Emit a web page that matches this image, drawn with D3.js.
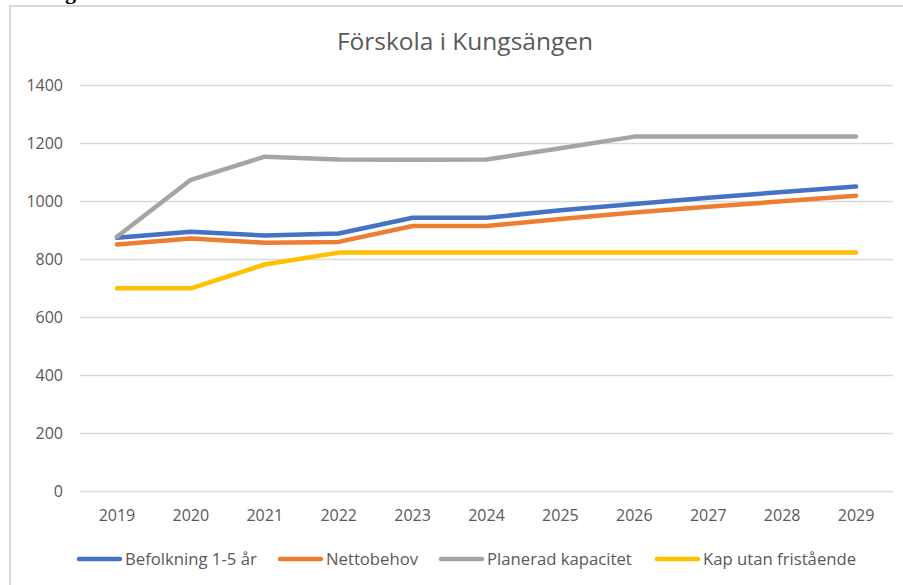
<!DOCTYPE html>
<html>
<head>
<meta charset="utf-8">
<script src="https://cdn.jsdelivr.net/npm/d3@7"></script>
<style>
  html, body { margin: 0; padding: 0; background: #fff; }
  svg { display: block; }
</style>
</head>
<body>
<svg id="chart" width="903" height="585"></svg>
<script>
const title = "Förskola i Kungsängen";
const years = ["2019","2020","2021","2022","2023","2024","2025","2026","2027","2028","2029"];
const yTicks = [0, 200, 400, 600, 800, 1000, 1200, 1400];
const seriesNames = ["Befolkning 1-5 år", "Nettobehov", "Planerad kapacitet", "Kap utan fristående"];
const befolkning = [873, 894, 881, 888, 942, 942, 968, 990, 1011, 1031, 1050];
const nettobehov = [850, 871, 856, 859, 914, 914, 938, 960, 980, 999, 1018];
const planerad   = [877, 1073, 1153, 1143, 1142, 1143, 1182, 1222, 1222, 1222, 1222];
const kapUtan    = [699, 699, 781, 822, 822, 822, 822, 822, 822, 822, 822];
const colors = ["#4472C4", "#ED7D31", "#A5A5A5", "#FFC000"];

const seriesValues = [befolkning, nettobehov, planerad, kapUtan];

const svg = d3.select("#chart");
const font = "'Open Sans', 'Noto Sans', sans-serif";
const textColor = "#595959";

// cut-off document text above the chart (only its descender shows)
svg.append("text")
  .attr("x", 76).attr("y", -1)
  .attr("text-anchor", "end")
  .attr("font-family", "'Liberation Serif', serif")
  .attr("font-weight", "bold")
  .attr("font-size", 22)
  .attr("fill", "#000")
  .text("ng");

// chart border
svg.append("rect")
  .attr("x", 10).attr("y", 6)
  .attr("width", 1000).attr("height", 700)
  .attr("fill", "none")
  .attr("stroke", "#D9D9D9")
  .attr("stroke-width", 2);

const plot = { left: 80, right: 893, top: 85, bottom: 491 };

const x = d3.scaleBand().domain(years).range([plot.left, plot.right]);
const y = d3.scaleLinear().domain([0, 1400]).range([plot.bottom, plot.top]);

// gridlines
const yAxis = d3.axisLeft(y).tickValues(yTicks).tickSize(-(plot.right - plot.left)).tickPadding(17).tickFormat(d3.format("d"));
const gy = svg.append("g").attr("transform", `translate(${plot.left},0)`).call(yAxis);
gy.select(".domain").remove();
gy.selectAll(".tick line").attr("stroke", "#D9D9D9").attr("stroke-width", 1.3);
gy.selectAll(".tick text")
  .attr("font-family", font).attr("font-size", 16).attr("fill", textColor)
  .attr("dy", "0.36em");

// x axis labels
const xAxis = d3.axisBottom(x).tickSize(0).tickPadding(19);
const gx = svg.append("g").attr("transform", `translate(0,${plot.bottom})`).call(xAxis);
gx.select(".domain").remove();
gx.selectAll(".tick text")
  .attr("font-family", font).attr("font-size", 16).attr("fill", textColor);

// lines
const line = d3.line()
  .x((d, i) => x(years[i]) + x.bandwidth() / 2)
  .y(d => y(d));

seriesValues.forEach((vals, k) => {
  svg.append("path")
    .datum(vals)
    .attr("d", line)
    .attr("fill", "none")
    .attr("stroke", colors[k])
    .attr("stroke-width", 4.5)
    .attr("stroke-linecap", "round")
    .attr("stroke-linejoin", "round");
});

// title
svg.append("text")
  .attr("x", 465).attr("y", 50)
  .attr("text-anchor", "middle")
  .attr("font-family", font)
  .attr("font-size", 24.5)
  .attr("fill", textColor)
  .text(title);

// legend
const legendStarts = [77, 278, 439, 655];
const legend = svg.append("g");
seriesNames.forEach((name, k) => {
  const g = legend.append("g").attr("transform", `translate(${legendStarts[k]},0)`);
  g.append("line")
    .attr("x1", 2).attr("x2", 43)
    .attr("y1", 559).attr("y2", 559)
    .attr("stroke", colors[k])
    .attr("stroke-width", 4.5)
    .attr("stroke-linecap", "round");
  g.append("text")
    .attr("x", 48).attr("y", 565)
    .attr("font-family", font).attr("font-size", 16.7)
    .attr("fill", textColor)
    .text(name);
});
</script>
</body>
</html>
